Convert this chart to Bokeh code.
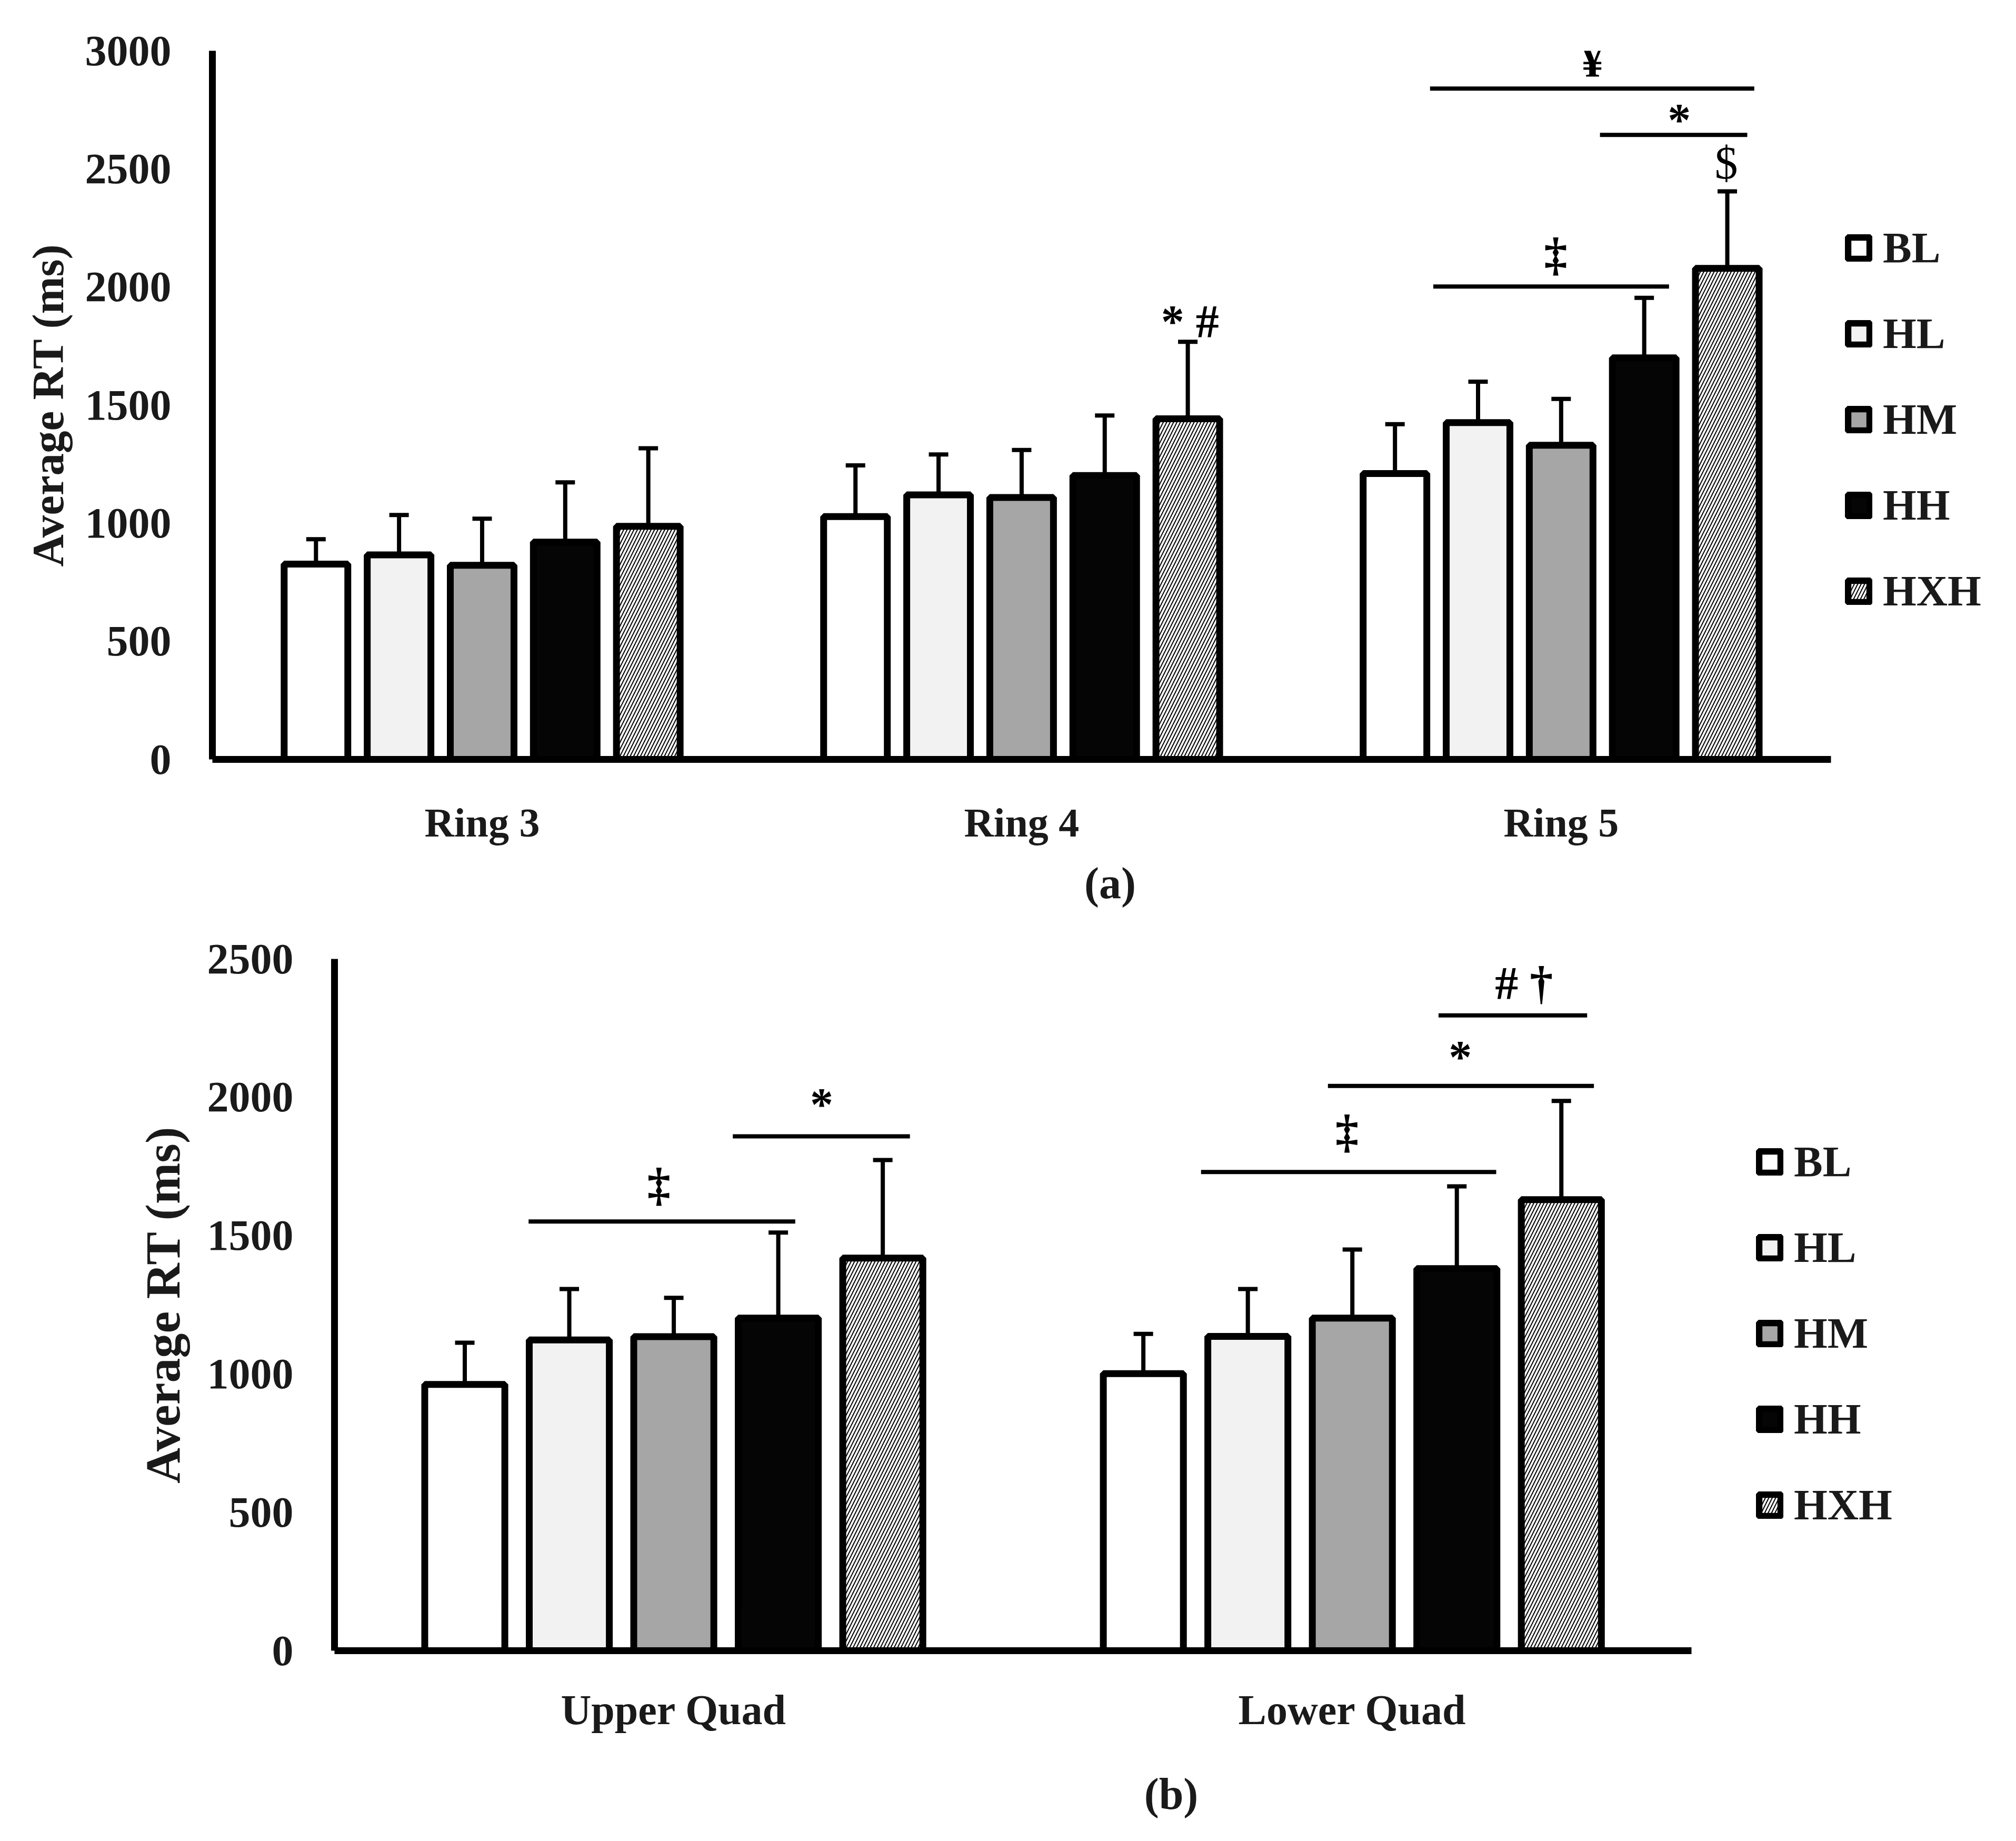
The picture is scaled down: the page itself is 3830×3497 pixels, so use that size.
from bokeh.plotting import figure
from bokeh.models import (ColumnDataSource, FixedTicker, Legend, LegendItem,
                          Range1d, TeeHead, Whisker)
from bokeh.embed import file_html
from bokeh.resources import INLINE

# ---- data -------------------------------------------------------------
groups = ["BL", "HL", "HM", "HH", "HXH"]

# panel (a): average RT per ring, mean and SD for each condition
rings = ["Ring 3", "Ring 4", "Ring 5"]
ring_mean = {
    "BL":  [827, 1028, 1210],
    "HL":  [866, 1120, 1426],
    "HM":  [822, 1109, 1330],
    "HH":  [920, 1202, 1700],
    "HXH": [987, 1442, 2079],
}
ring_sd = {
    "BL":  [105, 217, 209],
    "HL":  [169, 171, 173],
    "HM":  [197, 201, 196],
    "HH":  [253, 254, 254],
    "HXH": [330, 326, 326],
}

# panel (b): average RT per quadrant
quads = ["Upper Quad", "Lower Quad"]
quad_mean = {
    "BL":  [962, 1001],
    "HL":  [1123, 1136],
    "HM":  [1135, 1202],
    "HH":  [1202, 1381],
    "HXH": [1419, 1630],
}
quad_sd = {
    "BL":  [151, 144],
    "HL":  [184, 171],
    "HM":  [140, 248],
    "HH":  [309, 297],
    "HXH": [354, 357],
}

# significance brackets (x in category units, y in ms) and their symbols
sig_a_x0 = [2.257, 2.263, 2.572]
sig_a_x1 = [2.858, 2.700, 2.845]
sig_a_y = [2840, 2002, 2644]
sig_a_text = ["¥", "‡", "*", "$", "* #"]
sig_a_tx = [2.558, 2.490, 2.719, 2.806, 1.812]
sig_a_ty = [2958, 2138, 2708, 2525, 1855]
sig_a_style = ["bold", "bold", "bold", "normal", "bold"]

sig_b_x0 = [0.286, 0.587, 1.277, 1.464, 1.627]
sig_b_x1 = [0.679, 0.848, 1.712, 1.856, 1.846]
sig_b_y = [1551, 1859, 1730, 2041, 2296]
sig_b_text = ["‡", "*", "‡", "*", "# †"]
sig_b_tx = [0.478, 0.718, 1.492, 1.659, 1.753]
sig_b_ty = [1684, 1975, 1876, 2147, 2413]
sig_b_style = ["bold", "bold", "bold", "bold", "bold"]

fills = ["#ffffff", "#f2f2f2", "#a6a6a6", "#050505", "#ffffff"]
hatches = [" ", " ", " ", " ", "/"]
offsets = [-0.308, -0.154, 0.0, 0.154, 0.308]

SERIF = "Liberation Serif"
SANS = "Liberation Sans"
INK = "#1a1a1a"


def make_panel(cats, means, sds, ymax, yticks, width, height, left, top, bottom,
               x_end, panel_label, title_size, cat_size, leg_xy, cat_standoff,
               lab_standoff, title_standoff,
               sx0, sx1, sy, stext, stx, sty, sstyle):
    p = figure(width=width, height=height, output_backend="svg",
               toolbar_location=None, x_range=Range1d(0, x_end),
               y_range=Range1d(0, ymax), min_border_left=left,
               min_border_top=top, min_border_bottom=bottom,
               min_border_right=0)
    p.outline_line_color = None
    p.grid.grid_line_color = None
    p.background_fill_color = "white"

    centers = [i + 0.5 for i in range(len(cats))]
    items = []
    for gi, g in enumerate(groups):
        xs = [c + offsets[gi] for c in centers]
        src = ColumnDataSource(dict(x=xs, top=means[g],
                                    upper=[m + s for m, s in zip(means[g], sds[g])]))
        w = Whisker(source=src, base="x", lower="top", upper="upper",
                    line_width=8, line_color="black", lower_head=None,
                    upper_head=TeeHead(size=37, line_width=8, line_color="black"),
                    level="underlay")
        p.add_layout(w)
        r = p.vbar(x="x", top="top", bottom=0, width=0.118, source=src,
                   fill_color=fills[gi], line_color="black", line_width=13,
                   hatch_pattern=hatches[gi], hatch_color="black",
                   hatch_scale=13, hatch_weight=2)
        items.append(LegendItem(label=g, renderers=[r]))

    p.segment(x0=sx0, x1=sx1, y0=sy, y1=sy, line_width=8, line_color="black")
    p.text(x=stx, y=sty, text=stext, text_font_style=sstyle,
           text_font=SANS, text_font_size="88px", text_align="center",
           text_baseline="middle", text_color="black")

    leg = Legend(items=items, location=leg_xy, orientation="vertical",
                 glyph_width=52, glyph_height=52, label_height=52,
                 spacing=69, padding=0, margin=0, label_standoff=20,
                 border_line_color=None, background_fill_alpha=0,
                 label_text_font=SERIF, label_text_font_style="bold",
                 label_text_font_size="82px", label_text_color=INK)
    p.add_layout(leg)

    # axes
    p.xaxis.ticker = FixedTicker(ticks=centers)
    p.xaxis.major_label_overrides = {c: n for c, n in zip(centers, cats)}
    p.xaxis.bounds = (0, len(cats))
    p.xaxis.axis_label = panel_label
    p.yaxis.ticker = FixedTicker(ticks=yticks)
    p.yaxis.axis_label = "Average RT (ms)"
    for ax in (p.xaxis[0], p.yaxis[0]):
        ax.axis_line_width = 13
        ax.axis_line_color = "black"
        ax.major_tick_line_color = None
        ax.minor_tick_line_color = None
        ax.major_label_text_font = SERIF
        ax.major_label_text_font_style = "bold"
        ax.major_label_text_color = INK
        ax.axis_label_text_font = SERIF
        ax.axis_label_text_font_style = "bold"
        ax.axis_label_text_color = INK
    p.xaxis.major_label_text_font_size = cat_size
    p.xaxis.major_label_standoff = cat_standoff
    p.xaxis.axis_label_text_font_size = "84px"
    p.xaxis.axis_label_standoff = lab_standoff
    p.yaxis.major_label_text_font_size = "82px"
    p.yaxis.major_label_standoff = 72
    p.yaxis.axis_label_text_font_size = title_size
    p.yaxis.axis_label_standoff = title_standoff
    return p


p1 = make_panel(rings, ring_mean, ring_sd, 3000, [0, 500, 1000, 1500, 2000, 2500, 3000],
                3814, 1760, 403, 96, 318, 3.328, "(a)", "85px", "78px",
                (3102, 272), 70, 22, 21,
                sig_a_x0, sig_a_x1, sig_a_y, sig_a_text, sig_a_tx, sig_a_ty, sig_a_style)
p2 = make_panel(quads, quad_mean, quad_sd, 2500, [0, 500, 1000, 1500, 2000, 2500],
                3814, 1721, 635, 61, 346, 2.466, "(b)", "94px", "80px",
                (2701, 229), 62, 66, 30,
                sig_b_x0, sig_b_x1, sig_b_y, sig_b_text, sig_b_tx, sig_b_ty, sig_b_style)

open("out.html", "w").write(file_html([p1, p2], INLINE))
